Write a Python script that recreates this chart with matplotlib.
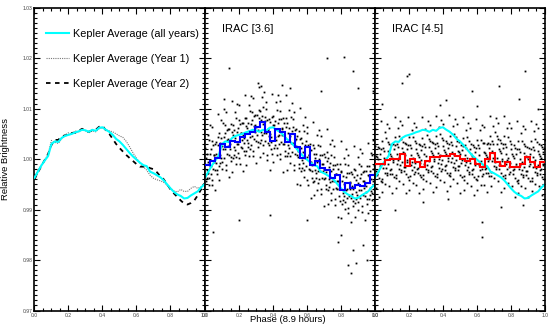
import numpy as np
import matplotlib
matplotlib.use("Agg")
import matplotlib.pyplot as plt
from matplotlib.ticker import MultipleLocator

plt.rcParams["font.family"] = ["Liberation Sans", "DejaVu Sans"]

# Kepler phase curves, read every 0.02 in phase
kepler_phase = [0.00, 0.02, 0.04, 0.06, 0.08, 0.10, 0.12, 0.14, 0.16, 0.18,
                0.20, 0.22, 0.24, 0.26, 0.28, 0.30, 0.32, 0.34, 0.36, 0.38,
                0.40, 0.42, 0.44, 0.46, 0.48, 0.50, 0.52, 0.54, 0.56, 0.58,
                0.60, 0.62, 0.64, 0.66, 0.68, 0.70, 0.72, 0.74, 0.76, 0.78,
                0.80, 0.82, 0.84, 0.86, 0.88, 0.90, 0.92, 0.94, 0.96, 0.98, 1.00]
kepler_all = [0.9963, 0.9975, 0.9987, 0.9997, 1.0006, 1.0030, 1.0035, 1.0034, 1.0042, 1.0046,
              1.0048, 1.0050, 1.0053, 1.0055, 1.0058, 1.0057, 1.0054, 1.0058, 1.0056, 1.0062,
              1.0063, 1.0058, 1.0054, 1.0048, 1.0040, 1.0035, 1.0028, 1.0020, 1.0012, 1.0005,
              0.9999, 0.9993, 0.9988, 0.9986, 0.9975, 0.9972, 0.9968, 0.9964, 0.9958, 0.9950,
              0.9942, 0.9935, 0.9930, 0.9927, 0.9922, 0.9923, 0.9928, 0.9932, 0.9936, 0.9944, 0.9950]
kepler_year1 = [0.9965, 0.9977, 0.9988, 0.9998, 1.0010, 1.0037, 1.0033, 1.0031, 1.0040, 1.0048,
                1.0052, 1.0050, 1.0056, 1.0053, 1.0058, 1.0056, 1.0052, 1.0056, 1.0054, 1.0060,
                1.0062, 1.0058, 1.0056, 1.0054, 1.0050, 1.0046, 1.0043, 1.0035, 1.0024, 1.0012,
                1.0002, 0.9992, 0.9985, 0.9978, 0.9968, 0.9962, 0.9959, 0.9957, 0.9954, 0.9948,
                0.9942, 0.9937, 0.9935, 0.9940, 0.9936, 0.9936, 0.9942, 0.9946, 0.9942, 0.9945, 0.9950]
kepler_year2 = [0.9960, 0.9973, 0.9986, 0.9998, 1.0010, 1.0028, 1.0038, 1.0038, 1.0045, 1.0047,
                1.0048, 1.0052, 1.0052, 1.0056, 1.0060, 1.0056, 1.0054, 1.0057, 1.0058, 1.0064,
                1.0066, 1.0057, 1.0050, 1.0040, 1.0030, 1.0022, 1.0015, 1.0008, 1.0002, 0.9996,
                0.9990, 0.9985, 0.9985, 0.9985, 0.9982, 0.9980, 0.9974, 0.9966, 0.9960, 0.9950,
                0.9940, 0.9932, 0.9925, 0.9918, 0.9912, 0.9910, 0.9913, 0.9918, 0.9928, 0.9940, 0.9952]

# binned IRAC light curves (34 equal bins across the phase)
irac36_binned = [0.9989, 0.9996, 1.0003, 1.0029, 1.0023, 1.0036, 1.0033, 1.0043, 1.0049, 1.0053,
                 1.0063, 1.0073, 1.0053, 1.0036, 1.0059, 1.0053, 1.0033, 1.0049, 1.0023, 1.0003,
                 1.0023, 0.9989, 0.9996, 0.9983, 0.9979, 0.9963, 0.9969, 0.9939, 0.9953, 0.9943,
                 0.9949, 0.9946, 0.9953, 0.9969]
irac45_binned = [0.9991, 0.9991, 0.9999, 1.0001, 1.0001, 1.0010, 0.9987, 1.0001, 0.9995, 0.9984,
                 0.9997, 1.0004, 1.0004, 1.0007, 1.0007, 1.0010, 1.0007, 1.0001, 0.9997, 1.0001,
                 0.9991, 0.9984, 1.0001, 1.0013, 0.9995, 0.9987, 0.9995, 0.9984, 0.9984, 0.9991,
                 1.0004, 0.9995, 0.9984, 0.9995]

# unbinned photometry (a thinned reading of the point clouds), two sets of samples
scatter_phase_a = [
    0.013, 0.004, 0.017, 0.009, 0.001, 0.033, 0.024, 0.037, 0.029, 0.021,
    0.053, 0.044, 0.057, 0.049, 0.041, 0.073, 0.064, 0.077, 0.069, 0.061,
    0.093, 0.084, 0.097, 0.089, 0.081, 0.113, 0.104, 0.117, 0.109, 0.101,
    0.133, 0.124, 0.137, 0.129, 0.121, 0.153, 0.144, 0.157, 0.149, 0.141,
    0.173, 0.164, 0.177, 0.169, 0.161, 0.193, 0.184, 0.197, 0.189, 0.181,
    0.213, 0.204, 0.217, 0.209, 0.201, 0.233, 0.224, 0.237, 0.229, 0.221,
    0.253, 0.244, 0.257, 0.249, 0.241, 0.273, 0.264, 0.277, 0.269, 0.261,
    0.293, 0.284, 0.297, 0.289, 0.281, 0.313, 0.304, 0.317, 0.309, 0.301,
    0.333, 0.324, 0.337, 0.329, 0.321, 0.353, 0.344, 0.357, 0.349, 0.341,
    0.373, 0.364, 0.377, 0.369, 0.361, 0.393, 0.384, 0.397, 0.389, 0.381,
    0.413, 0.404, 0.417, 0.409, 0.401, 0.433, 0.424, 0.437, 0.429, 0.421,
    0.453, 0.444, 0.457, 0.449, 0.441, 0.473, 0.464, 0.477, 0.469, 0.461,
    0.493, 0.484, 0.497, 0.489, 0.481, 0.513, 0.504, 0.517, 0.509, 0.501,
    0.533, 0.524, 0.537, 0.529, 0.521, 0.553, 0.544, 0.557, 0.549, 0.541,
    0.573, 0.564, 0.577, 0.569, 0.561, 0.593, 0.584, 0.597, 0.589, 0.581,
    0.613, 0.604, 0.617, 0.609, 0.601, 0.633, 0.624, 0.637, 0.629, 0.621,
    0.653, 0.644, 0.657, 0.649, 0.641, 0.673, 0.664, 0.677, 0.669, 0.661,
    0.693, 0.684, 0.697, 0.689, 0.681, 0.713, 0.704, 0.717, 0.709, 0.701,
    0.733, 0.724, 0.737, 0.729, 0.721, 0.753, 0.744, 0.757, 0.749, 0.741,
    0.773, 0.764, 0.777, 0.769, 0.761, 0.793, 0.784, 0.797, 0.789, 0.781,
    0.813, 0.804, 0.817, 0.809, 0.801, 0.833, 0.824, 0.837, 0.829, 0.821,
    0.853, 0.844, 0.857, 0.849, 0.841, 0.873, 0.864, 0.877, 0.869, 0.861,
    0.893, 0.884, 0.897, 0.889, 0.881, 0.913, 0.904, 0.917, 0.909, 0.901,
    0.933, 0.924, 0.937, 0.929, 0.921, 0.953, 0.944, 0.957, 0.949, 0.941,
    0.973, 0.964, 0.977, 0.969, 0.961, 0.993, 0.984, 0.997, 0.989, 0.981,
]
scatter_phase_b = [
    0.007, 0.015, 0.002, 0.011, 0.019, 0.027, 0.035, 0.022, 0.031, 0.039,
    0.047, 0.055, 0.042, 0.051, 0.059, 0.067, 0.075, 0.062, 0.071, 0.079,
    0.087, 0.095, 0.082, 0.091, 0.099, 0.107, 0.115, 0.102, 0.111, 0.119,
    0.127, 0.135, 0.122, 0.131, 0.139, 0.147, 0.155, 0.142, 0.151, 0.159,
    0.167, 0.175, 0.162, 0.171, 0.179, 0.187, 0.195, 0.182, 0.191, 0.199,
    0.207, 0.215, 0.202, 0.211, 0.219, 0.227, 0.235, 0.222, 0.231, 0.239,
    0.247, 0.255, 0.242, 0.251, 0.259, 0.267, 0.275, 0.262, 0.271, 0.279,
    0.287, 0.295, 0.282, 0.291, 0.299, 0.307, 0.315, 0.302, 0.311, 0.319,
    0.327, 0.335, 0.322, 0.331, 0.339, 0.347, 0.355, 0.342, 0.351, 0.359,
    0.367, 0.375, 0.362, 0.371, 0.379, 0.387, 0.395, 0.382, 0.391, 0.399,
    0.407, 0.415, 0.402, 0.411, 0.419, 0.427, 0.435, 0.422, 0.431, 0.439,
    0.447, 0.455, 0.442, 0.451, 0.459, 0.467, 0.475, 0.462, 0.471, 0.479,
    0.487, 0.495, 0.482, 0.491, 0.499, 0.507, 0.515, 0.502, 0.511, 0.519,
    0.527, 0.535, 0.522, 0.531, 0.539, 0.547, 0.555, 0.542, 0.551, 0.559,
    0.567, 0.575, 0.562, 0.571, 0.579, 0.587, 0.595, 0.582, 0.591, 0.599,
    0.607, 0.615, 0.602, 0.611, 0.619, 0.627, 0.635, 0.622, 0.631, 0.639,
    0.647, 0.655, 0.642, 0.651, 0.659, 0.667, 0.675, 0.662, 0.671, 0.679,
    0.687, 0.695, 0.682, 0.691, 0.699, 0.707, 0.715, 0.702, 0.711, 0.719,
    0.727, 0.735, 0.722, 0.731, 0.739, 0.747, 0.755, 0.742, 0.751, 0.759,
    0.767, 0.775, 0.762, 0.771, 0.779, 0.787, 0.795, 0.782, 0.791, 0.799,
    0.807, 0.815, 0.802, 0.811, 0.819, 0.827, 0.835, 0.822, 0.831, 0.839,
    0.847, 0.855, 0.842, 0.851, 0.859, 0.867, 0.875, 0.862, 0.871, 0.879,
    0.887, 0.895, 0.882, 0.891, 0.899, 0.907, 0.915, 0.902, 0.911, 0.919,
    0.927, 0.935, 0.922, 0.931, 0.939, 0.947, 0.955, 0.942, 0.951, 0.959,
    0.967, 0.975, 0.962, 0.971, 0.979, 0.987, 0.995, 0.982, 0.991, 0.999,
]
irac36_flux_a = [
    1.0011, 0.9956, 1.0048, 0.9978, 0.9929, 0.9970, 1.0038, 0.9987, 1.0067, 0.9948,
    1.0009, 0.9948, 1.0029, 0.9981, 1.0064, 0.9970, 1.0034, 1.0089, 1.0004, 0.9938,
    1.0041, 0.9986, 1.0078, 1.0008, 0.9959, 1.0003, 1.0071, 1.0020, 1.0100, 0.9981,
    1.0039, 0.9978, 1.0059, 1.0011, 1.0094, 0.9996, 1.0060, 1.0115, 1.0030, 0.9964,
    1.0057, 1.0002, 1.0094, 1.0024, 0.9975, 1.0013, 1.0081, 1.0030, 1.0110, 0.9991,
    1.0052, 0.9991, 1.0072, 1.0024, 1.0107, 1.0008, 1.0072, 1.0127, 1.0042, 0.9976,
    1.0071, 1.0016, 1.0108, 1.0038, 0.9989, 1.0028, 1.0096, 1.0045, 1.0125, 1.0006,
    1.0067, 1.0006, 1.0087, 1.0039, 1.0122, 1.0024, 1.0088, 1.0143, 1.0058, 0.9992,
    1.0086, 1.0031, 1.0123, 1.0053, 1.0004, 1.0035, 1.0103, 1.0052, 1.0132, 1.0013,
    1.0059, 0.9998, 1.0079, 1.0031, 1.0114, 1.0010, 1.0074, 1.0129, 1.0044, 0.9978,
    1.0076, 1.0021, 1.0113, 1.0043, 0.9994, 1.0030, 1.0098, 1.0047, 1.0127, 1.0008,
    1.0061, 1.0000, 1.0081, 1.0033, 1.0116, 1.0007, 1.0071, 1.0126, 1.0041, 0.9975,
    1.0061, 1.0006, 1.0098, 1.0028, 0.9979, 1.0015, 1.0083, 1.0032, 1.0112, 0.9993,
    1.0039, 0.9978, 1.0059, 1.0011, 1.0094, 0.9982, 1.0046, 1.0101, 1.0016, 0.9950,
    1.0031, 0.9976, 1.0068, 0.9998, 0.9949, 0.9987, 1.0055, 1.0004, 1.0084, 0.9965,
    1.0009, 0.9948, 1.0029, 0.9981, 1.0064, 0.9954, 1.0018, 1.0073, 0.9988, 0.9922,
    1.0011, 0.9956, 1.0048, 0.9978, 0.9929, 0.9960, 1.0028, 0.9977, 1.0057, 0.9938,
    0.9991, 0.9930, 1.0011, 0.9963, 1.0046, 0.9940, 1.0004, 1.0059, 0.9974, 0.9908,
    0.9993, 0.9938, 1.0030, 0.9960, 0.9911, 0.9940, 1.0008, 0.9957, 1.0037, 0.9918,
    0.9971, 0.9910, 0.9991, 0.9943, 1.0026, 0.9917, 0.9981, 1.0036, 0.9951, 0.9885,
    0.9966, 0.9911, 1.0003, 0.9933, 0.9884, 0.9923, 0.9991, 0.9940, 1.0020, 0.9901,
    0.9954, 0.9893, 0.9974, 0.9926, 1.0009, 0.9907, 0.9971, 1.0026, 0.9941, 0.9875,
    0.9968, 0.9913, 1.0005, 0.9935, 0.9886, 0.9922, 0.9990, 0.9939, 1.0019, 0.9900,
    0.9957, 0.9896, 0.9977, 0.9929, 1.0012, 0.9912, 0.9976, 1.0031, 0.9946, 0.9880,
    0.9976, 0.9921, 1.0013, 0.9943, 0.9894, 0.9940, 1.0008, 0.9957, 1.0037, 0.9918,
]
irac36_flux_b = [
    1.0002, 0.9972, 1.0021, 0.9963, 0.9995, 0.9986, 1.0019, 0.9962, 1.0011, 1.0035,
    1.0027, 0.9995, 0.9959, 1.0008, 0.9978, 0.9993, 1.0044, 1.0010, 0.9979, 1.0027,
    1.0032, 1.0002, 1.0051, 0.9993, 1.0025, 1.0019, 1.0052, 0.9995, 1.0044, 1.0068,
    1.0057, 1.0025, 0.9989, 1.0038, 1.0008, 1.0019, 1.0070, 1.0036, 1.0005, 1.0053,
    1.0048, 1.0018, 1.0067, 1.0009, 1.0041, 1.0029, 1.0062, 1.0005, 1.0054, 1.0078,
    1.0070, 1.0038, 1.0002, 1.0051, 1.0021, 1.0031, 1.0082, 1.0048, 1.0017, 1.0065,
    1.0062, 1.0032, 1.0081, 1.0023, 1.0055, 1.0044, 1.0077, 1.0020, 1.0069, 1.0093,
    1.0085, 1.0053, 1.0017, 1.0066, 1.0036, 1.0047, 1.0098, 1.0064, 1.0033, 1.0081,
    1.0077, 1.0047, 1.0096, 1.0038, 1.0070, 1.0051, 1.0084, 1.0027, 1.0076, 1.0100,
    1.0077, 1.0045, 1.0009, 1.0058, 1.0028, 1.0033, 1.0084, 1.0050, 1.0019, 1.0067,
    1.0067, 1.0037, 1.0086, 1.0028, 1.0060, 1.0046, 1.0079, 1.0022, 1.0071, 1.0095,
    1.0079, 1.0047, 1.0011, 1.0060, 1.0030, 1.0030, 1.0081, 1.0047, 1.0016, 1.0064,
    1.0052, 1.0022, 1.0071, 1.0013, 1.0045, 1.0031, 1.0064, 1.0007, 1.0056, 1.0080,
    1.0057, 1.0025, 0.9989, 1.0038, 1.0008, 1.0005, 1.0056, 1.0022, 0.9991, 1.0039,
    1.0022, 0.9992, 1.0041, 0.9983, 1.0015, 1.0003, 1.0036, 0.9979, 1.0028, 1.0052,
    1.0027, 0.9995, 0.9959, 1.0008, 0.9978, 0.9977, 1.0028, 0.9994, 0.9963, 1.0011,
    1.0002, 0.9972, 1.0021, 0.9963, 0.9995, 0.9976, 1.0009, 0.9952, 1.0001, 1.0025,
    1.0009, 0.9977, 0.9941, 0.9990, 0.9960, 0.9963, 1.0014, 0.9980, 0.9949, 0.9997,
    0.9984, 0.9954, 1.0003, 0.9945, 0.9977, 0.9956, 0.9989, 0.9932, 0.9981, 1.0005,
    0.9989, 0.9957, 0.9921, 0.9970, 0.9940, 0.9940, 0.9991, 0.9957, 0.9926, 0.9974,
    0.9957, 0.9927, 0.9976, 0.9918, 0.9950, 0.9939, 0.9972, 0.9915, 0.9964, 0.9988,
    0.9972, 0.9940, 0.9904, 0.9953, 0.9923, 0.9930, 0.9981, 0.9947, 0.9916, 0.9964,
    0.9959, 0.9929, 0.9978, 0.9920, 0.9952, 0.9938, 0.9971, 0.9914, 0.9963, 0.9987,
    0.9975, 0.9943, 0.9907, 0.9956, 0.9926, 0.9935, 0.9986, 0.9952, 0.9921, 0.9969,
    0.9967, 0.9937, 0.9986, 0.9928, 0.9960, 0.9956, 0.9989, 0.9932, 0.9981, 1.0005,
]
irac45_flux_a = [
    1.0004, 0.9943, 1.0024, 0.9976, 1.0059, 0.9957, 1.0021, 1.0076, 0.9991, 0.9925,
    1.0016, 0.9961, 1.0053, 0.9983, 0.9934, 0.9973, 1.0041, 0.9990, 1.0070, 0.9951,
    1.0007, 0.9946, 1.0027, 0.9979, 1.0062, 0.9965, 1.0029, 1.0084, 0.9999, 0.9933,
    1.0024, 0.9969, 1.0061, 0.9991, 0.9942, 0.9978, 1.0046, 0.9995, 1.0075, 0.9956,
    1.0012, 0.9951, 1.0032, 0.9984, 1.0067, 0.9965, 1.0029, 1.0084, 0.9999, 0.9933,
    1.0021, 0.9966, 1.0058, 0.9988, 0.9939, 0.9975, 1.0043, 0.9992, 1.0072, 0.9953,
    1.0009, 0.9948, 1.0029, 0.9981, 1.0064, 0.9964, 1.0028, 1.0083, 0.9998, 0.9932,
    1.0023, 0.9968, 1.0060, 0.9990, 0.9941, 0.9979, 1.0047, 0.9996, 1.0076, 0.9957,
    1.0013, 0.9952, 1.0033, 0.9985, 1.0068, 0.9967, 1.0031, 1.0086, 1.0001, 0.9935,
    1.0026, 0.9971, 1.0063, 0.9993, 0.9944, 0.9981, 1.0049, 0.9998, 1.0078, 0.9959,
    1.0015, 0.9954, 1.0035, 0.9987, 1.0070, 0.9968, 1.0032, 1.0087, 1.0002, 0.9936,
    1.0028, 0.9973, 1.0065, 0.9995, 0.9946, 0.9982, 1.0050, 0.9999, 1.0079, 0.9960,
    1.0014, 0.9953, 1.0034, 0.9986, 1.0069, 0.9964, 1.0028, 1.0083, 0.9998, 0.9932,
    1.0021, 0.9966, 1.0058, 0.9988, 0.9939, 0.9975, 1.0043, 0.9992, 1.0072, 0.9953,
    1.0007, 0.9946, 1.0027, 0.9979, 1.0062, 0.9960, 1.0024, 1.0079, 0.9994, 0.9928,
    1.0021, 0.9966, 1.0058, 0.9988, 0.9939, 0.9970, 1.0038, 0.9987, 1.0067, 0.9948,
    1.0009, 0.9948, 1.0029, 0.9981, 1.0064, 0.9967, 1.0031, 1.0086, 1.0001, 0.9935,
    1.0029, 0.9974, 1.0066, 0.9996, 0.9947, 0.9985, 1.0053, 1.0002, 1.0082, 0.9963,
    1.0017, 0.9956, 1.0037, 0.9989, 1.0072, 0.9967, 1.0031, 1.0086, 1.0001, 0.9935,
    1.0024, 0.9969, 1.0061, 0.9991, 0.9942, 0.9975, 1.0043, 0.9992, 1.0072, 0.9953,
    1.0007, 0.9946, 1.0027, 0.9979, 1.0062, 0.9957, 1.0021, 1.0076, 0.9991, 0.9925,
    1.0014, 0.9959, 1.0051, 0.9981, 0.9932, 0.9968, 1.0036, 0.9985, 1.0065, 0.9946,
    1.0004, 0.9943, 1.0024, 0.9976, 1.0059, 0.9957, 1.0021, 1.0076, 0.9991, 0.9925,
    1.0018, 0.9963, 1.0055, 0.9985, 0.9936, 0.9972, 1.0040, 0.9989, 1.0069, 0.9950,
    1.0007, 0.9946, 1.0027, 0.9979, 1.0062, 0.9960, 1.0024, 1.0079, 0.9994, 0.9928,
]
irac45_flux_b = [
    1.0007, 0.9977, 1.0026, 0.9968, 1.0000, 0.9986, 1.0019, 0.9962, 1.0011, 1.0035,
    1.0022, 0.9990, 0.9954, 1.0003, 0.9973, 0.9983, 1.0034, 1.0000, 0.9969, 1.0017,
    1.0010, 0.9980, 1.0029, 0.9971, 1.0003, 0.9994, 1.0027, 0.9970, 1.0019, 1.0043,
    1.0030, 0.9998, 0.9962, 1.0011, 0.9981, 0.9988, 1.0039, 1.0005, 0.9974, 1.0022,
    1.0015, 0.9985, 1.0034, 0.9976, 1.0008, 0.9994, 1.0027, 0.9970, 1.0019, 1.0043,
    1.0027, 0.9995, 0.9959, 1.0008, 0.9978, 0.9985, 1.0036, 1.0002, 0.9971, 1.0019,
    1.0012, 0.9982, 1.0031, 0.9973, 1.0005, 0.9993, 1.0026, 0.9969, 1.0018, 1.0042,
    1.0029, 0.9997, 0.9961, 1.0010, 0.9980, 0.9989, 1.0040, 1.0006, 0.9975, 1.0023,
    1.0016, 0.9986, 1.0035, 0.9977, 1.0009, 0.9996, 1.0029, 0.9972, 1.0021, 1.0045,
    1.0032, 1.0000, 0.9964, 1.0013, 0.9983, 0.9991, 1.0042, 1.0008, 0.9977, 1.0025,
    1.0018, 0.9988, 1.0037, 0.9979, 1.0011, 0.9997, 1.0030, 0.9973, 1.0022, 1.0046,
    1.0034, 1.0002, 0.9966, 1.0015, 0.9985, 0.9992, 1.0043, 1.0009, 0.9978, 1.0026,
    1.0017, 0.9987, 1.0036, 0.9978, 1.0010, 0.9993, 1.0026, 0.9969, 1.0018, 1.0042,
    1.0027, 0.9995, 0.9959, 1.0008, 0.9978, 0.9985, 1.0036, 1.0002, 0.9971, 1.0019,
    1.0010, 0.9980, 1.0029, 0.9971, 1.0003, 0.9989, 1.0022, 0.9965, 1.0014, 1.0038,
    1.0027, 0.9995, 0.9959, 1.0008, 0.9978, 0.9980, 1.0031, 0.9997, 0.9966, 1.0014,
    1.0012, 0.9982, 1.0031, 0.9973, 1.0005, 0.9996, 1.0029, 0.9972, 1.0021, 1.0045,
    1.0035, 1.0003, 0.9967, 1.0016, 0.9986, 0.9995, 1.0046, 1.0012, 0.9981, 1.0029,
    1.0020, 0.9990, 1.0039, 0.9981, 1.0013, 0.9996, 1.0029, 0.9972, 1.0021, 1.0045,
    1.0030, 0.9998, 0.9962, 1.0011, 0.9981, 0.9985, 1.0036, 1.0002, 0.9971, 1.0019,
    1.0010, 0.9980, 1.0029, 0.9971, 1.0003, 0.9986, 1.0019, 0.9962, 1.0011, 1.0035,
    1.0020, 0.9988, 0.9952, 1.0001, 0.9971, 0.9978, 1.0029, 0.9995, 0.9964, 1.0012,
    1.0007, 0.9977, 1.0026, 0.9968, 1.0000, 0.9986, 1.0019, 0.9962, 1.0011, 1.0035,
    1.0024, 0.9992, 0.9956, 1.0005, 0.9975, 0.9982, 1.0033, 0.9999, 0.9968, 1.0016,
    1.0010, 0.9980, 1.0029, 0.9971, 1.0003, 0.9989, 1.0022, 0.9965, 1.0014, 1.0038,
]

# stray points well away from the clouds
irac36_outlier_phase = [0.14, 0.33, 0.31, 0.72, 0.82, 0.87, 0.68, 0.90, 0.99, 0.84, 0.86, 0.89,
                        0.87, 0.80, 0.93, 0.95, 0.38, 0.05, 0.20, 0.60, 0.78, 0.11, 0.50, 0.45]
irac36_outlier_flux = [1.0180, 1.0145, 1.0150, 1.0200, 1.0202, 1.0174, 1.0135, 1.0140, 1.0135,
                       0.9790, 0.9775, 0.9795, 0.9820, 0.9850, 0.9830, 0.9800, 0.9890, 0.9855,
                       0.9880, 0.9880, 0.9835, 1.0120, 1.0140, 1.0147]
irac45_outlier_phase = [0.16, 0.19, 0.20, 0.57, 0.73, 0.88, 0.28, 0.43, 0.63, 0.63, 0.74, 0.87,
                        0.12, 0.04, 0.38, 0.42, 0.60, 0.85, 0.96]
irac45_outlier_flux = [1.0150, 1.0165, 1.0168, 1.0135, 1.0145, 1.0175, 0.9915, 0.9920, 0.9875,
                       0.9845, 0.9905, 0.9910, 0.9900, 1.0110, 1.0108, 1.0118, 1.0105, 1.0120,
                       1.0100]

fig = plt.figure(figsize=(5.49, 3.26), dpi=100)
left = [0.0628, 0.3734, 0.683]
axes = [fig.add_axes([x0, 0.0475, 0.3097, 0.929]) for x0 in left]

for ax in axes:
    ax.set_xlim(0, 1)
    ax.set_ylim(0.97, 1.03)
    ax.xaxis.set_major_locator(MultipleLocator(0.2))
    ax.xaxis.set_minor_locator(MultipleLocator(0.05))
    ax.yaxis.set_major_locator(MultipleLocator(0.01))
    ax.yaxis.set_minor_locator(MultipleLocator(0.001))
    ax.tick_params(which="both", direction="in", top=True, right=True,
                   labelsize=3.6, labelcolor="#444444", pad=1.5, width=0.8)
    ax.tick_params(which="major", length=4)
    ax.tick_params(which="minor", length=2)
    ax.xaxis.set_major_formatter(plt.FormatStrFormatter("%.1f"))
    for s in ax.spines.values():
        s.set_linewidth(1.2)
    if ax is not axes[0]:
        ax.tick_params(labelleft=False)
axes[0].yaxis.set_major_formatter(plt.FormatStrFormatter("%.2f"))

# left panel: Kepler
ax = axes[0]
ax.plot(kepler_phase, kepler_all, color="#00ffff", lw=1.5, label="Kepler Average (all years)", zorder=3)
ax.plot(kepler_phase, kepler_year1, color="#777777", lw=0.8, ls=(0, (1, 1)), label="Kepler Average (Year 1)", zorder=2)
ax.plot(kepler_phase, kepler_year2, color="black", lw=1.3, ls=(0, (2.5, 2.5)), label="Kepler Average (Year 2)", zorder=2)
leg = ax.legend(loc="upper left", bbox_to_anchor=(0.04, 0.945), frameon=False, fontsize=7.8,
                handlelength=2.2, handletextpad=0.35, labelspacing=1.4, borderaxespad=0)
ax.set_ylabel("Relative Brightness", fontsize=6.8, labelpad=9)

edges = np.linspace(0, 1, len(irac36_binned) + 1)
dot = dict(ls="none", marker="s", ms=1.3, mew=0, color="black", zorder=1)

# middle panel: IRAC 3.6
ax = axes[1]
ax.plot(scatter_phase_a, irac36_flux_a, **dot)
ax.plot(scatter_phase_b, irac36_flux_b, **dot)
ax.plot(irac36_outlier_phase, irac36_outlier_flux, **dot)
ax.plot(kepler_phase, kepler_all, color="#00ffff", lw=1.5, zorder=2)
ax.stairs(irac36_binned, edges, color="#0000ff", lw=1.5, baseline=None, zorder=3)
ax.text(0.1, 0.945, "IRAC [3.6]", transform=ax.transAxes, fontsize=8, va="top")

# right panel: IRAC 4.5
ax = axes[2]
ax.plot(scatter_phase_a, irac45_flux_a, **dot)
ax.plot(scatter_phase_b, irac45_flux_b, **dot)
ax.plot(irac45_outlier_phase, irac45_outlier_flux, **dot)
ax.plot(kepler_phase, kepler_all, color="#00ffff", lw=1.5, zorder=2)
ax.stairs(irac45_binned, edges, color="#ff0000", lw=1.5, baseline=None, zorder=3)
ax.text(0.1, 0.945, "IRAC [4.5]", transform=ax.transAxes, fontsize=8, va="top")

fig.text(0.525, 1 - 319.5 / 326, "Phase (8.9 hours)", fontsize=6.8, ha="center", va="center")

fig.savefig("out.png", dpi=100)
